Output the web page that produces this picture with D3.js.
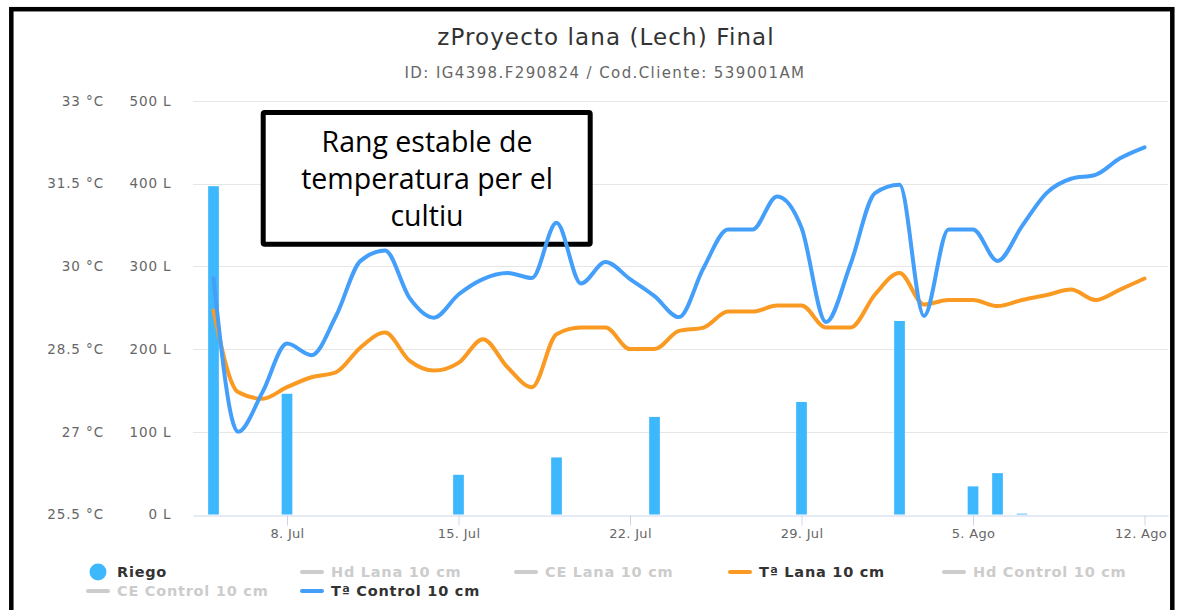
<!DOCTYPE html>
<html>
<head>
<meta charset="utf-8">
<script src="https://cdn.jsdelivr.net/npm/d3@7"></script>
<style>
  body { margin: 0; background: #fff; }
  svg { display: block; font-family: "DejaVu Sans", sans-serif; }
</style>
</head>
<body>
<div id="chart"></div>
<script>
// daily readings, first one on startDay
var startDay = "2024-07-05";
var taLana = [29.2, 27.72, 27.6, 27.81, 27.99, 28.08, 28.53, 28.8, 28.29, 28.11,
  28.25, 28.68, 28.17, 27.81, 28.77, 28.89, 28.89, 28.5, 28.5, 28.83,
  28.89, 29.18, 29.18, 29.29, 29.29, 28.89, 28.89, 29.49, 29.88, 29.31,
  29.39, 29.39, 29.28, 29.39, 29.48, 29.58, 29.39, 29.58, 29.78];
var taControl = [29.79, 27.0, 27.72, 28.6, 28.39, 29.1, 30.1, 30.29, 29.43, 29.07,
  29.49, 29.77, 29.88, 29.79, 30.79, 29.69, 30.08, 29.77, 29.46, 29.08,
  29.97, 30.67, 30.67, 31.27, 30.7, 28.99, 30.04, 31.33, 31.48, 29.1,
  30.67, 30.67, 30.1, 30.73, 31.33, 31.59, 31.66, 31.96, 32.16];

var riegoDates = ["2024-07-05", "2024-07-08", "2024-07-15", "2024-07-19", "2024-07-23",
  "2024-07-29", "2024-08-02", "2024-08-05", "2024-08-06", "2024-08-07"];
var riegoValues = [397, 146, 48, 69, 118, 136, 234, 34, 50, 1];

var tempTicks = [25.5, 27, 28.5, 30, 31.5, 33];
var litreTicks = [0, 100, 200, 300, 400, 500];
var monthNames = ["Ene", "Feb", "Mar", "Abr", "May", "Jun", "Jul", "Ago", "Sep", "Oct", "Nov", "Dic"];

var legendNames = ["Riego", "Hd Lana 10 cm", "CE Lana 10 cm", "Tª Lana 10 cm",
  "Hd Control 10 cm", "CE Control 10 cm", "Tª Control 10 cm"];
var legendActive = [true, false, false, true, false, false, true];

var noteLines = ["Rang estable de", "temperatura per el", "cultiu"];

var colorRiego = "#3db8fd";
var colorLana = "#fb9a22";
var colorControl = "#449ffb";

var parseDay = d3.timeParse("%Y-%m-%d");
var day0 = parseDay(startDay);

var svg = d3
  .select("#chart")
  .append("svg")
  .attr("width", 1184)
  .attr("height", 610);

svg.append("rect").attr("width", 1184).attr("height", 610).attr("fill", "#fff");

var plotLeft = 193, plotRight = 1168, plotTop = 101, plotBottom = 514.5;

var x = d3
  .scaleTime()
  .domain([new Date(2024, 6, 4, 3, 55), new Date(2024, 7, 12, 23, 0)])
  .range([plotLeft, plotRight]);
var yT = d3.scaleLinear().domain([25.5, 33]).range([plotBottom, plotTop]);
var yL = d3.scaleLinear().domain([0, 500]).range([plotBottom, plotTop]);

// title
svg.append("text")
  .attr("x", 606).attr("y", 45)
  .attr("text-anchor", "middle")
  .style("font-size", "23px")
  .style("letter-spacing", "1.1px")
  .attr("fill", "#333")
  .text("zProyecto lana (Lech) Final");

svg.append("text")
  .attr("x", 605).attr("y", 78)
  .attr("text-anchor", "middle")
  .style("font-size", "15px")
  .style("letter-spacing", "1.4px")
  .attr("fill", "#666")
  .text("ID: IG4398.F290824 / Cod.Cliente: 539001AM");

// grid
svg.append("g")
  .selectAll("line")
  .data(litreTicks.slice(1))
  .enter()
  .append("line")
  .attr("x1", plotLeft).attr("x2", plotRight)
  .attr("y1", function (d) { return Math.round(yL(d)) + 0.5; })
  .attr("y2", function (d) { return Math.round(yL(d)) + 0.5; })
  .attr("stroke", "#e6e6e6");

// y labels
svg.append("g")
  .selectAll("text")
  .data(tempTicks)
  .enter()
  .append("text")
  .attr("x", 104)
  .attr("y", function (d) { return yT(d); })
  .attr("dy", "0.35em")
  .attr("text-anchor", "end")
  .attr("fill", "#666")
  .style("font-size", "13.5px")
  .style("letter-spacing", "0.9px")
  .text(function (d) { return d + " °C"; });

svg.append("g")
  .selectAll("text")
  .data(litreTicks)
  .enter()
  .append("text")
  .attr("x", 171.5)
  .attr("y", function (d) { return yL(d); })
  .attr("dy", "0.35em")
  .attr("text-anchor", "end")
  .attr("fill", "#666")
  .style("font-size", "13.5px")
  .style("letter-spacing", "0.9px")
  .text(function (d) { return d + " L"; });

// x axis
var xAxis = svg.append("g")
  .attr("transform", "translate(0," + (Math.round(plotBottom) + 0.5) + ")")
  .call(
    d3.axisBottom(x)
      .tickValues(d3.timeMonday.range(x.domain()[0], x.domain()[1]))
      .tickSize(10)
      .tickSizeOuter(0)
      .tickPadding(3)
      .tickFormat(function (d) { return d.getDate() + ". " + monthNames[d.getMonth()]; })
  );
xAxis.select(".domain").attr("stroke", "#ccd6eb");
xAxis.selectAll(".tick line").attr("stroke", "#ccd6eb");
xAxis.selectAll(".tick text")
  .attr("fill", "#666")
  .style("font-size", "13px")
  .style("letter-spacing", "0.3px")
  .style("font-family", "DejaVu Sans, sans-serif");
// keep the last label inside the plot, like the original
xAxis.selectAll(".tick text")
  .filter(function (d, i, nodes) { return i == nodes.length - 1; })
  .attr("dx", -4);

// note box (sits over the grid, under the series)
var note = svg.append("g");
note.append("rect")
  .attr("x", 263.2).attr("y", 112.5)
  .attr("width", 327).attr("height", 131.7)
  .attr("fill", "#fff")
  .attr("stroke", "#000")
  .attr("stroke-width", 5)
  .attr("rx", 1.5);
note.selectAll("text")
  .data(noteLines)
  .enter()
  .append("text")
  .attr("x", 427)
  .attr("y", function (d, i) { return 151.7 + i * 37.2; })
  .attr("text-anchor", "middle")
  .attr("fill", "#000")
  .style("font-family", "'Open Sans', sans-serif")
  .style("font-size", "28.5px")
  .text(function (d) { return d; });

// riego bars
var barW = 10.7;
svg.append("g")
  .selectAll("rect")
  .data(riegoDates)
  .enter()
  .append("rect")
  .attr("x", function (d) { return x(parseDay(d)) - barW / 2; })
  .attr("y", function (d, i) { return yL(riegoValues[i]); })
  .attr("width", barW)
  .attr("height", function (d, i) { return plotBottom - yL(riegoValues[i]); })
  .attr("fill", colorRiego);

// temperature lines
function drawLine(values, color) {
  var line = d3.line()
    .x(function (d, i) { return x(d3.timeDay.offset(day0, i)); })
    .y(function (d) { return yT(d); })
    .curve(d3.curveMonotoneX);
  svg.append("path")
    .datum(values)
    .attr("d", line)
    .attr("fill", "none")
    .attr("stroke", color)
    .attr("stroke-width", 4)
    .attr("stroke-linejoin", "round")
    .attr("stroke-linecap", "round");
}
drawLine(taLana, colorLana);
drawLine(taControl, colorControl);

// legend
var legend = svg.append("g");
for (let i = 0; i < legendNames.length; i++) {
  var lx = 86 + (i % 5) * 214;
  var ly = 572 + Math.floor(i / 5) * 19;
  var c = "#ccc";
  if (i == 0) c = colorRiego;
  if (i == 3) c = colorLana;
  if (i == 6) c = colorControl;
  if (i == 0) {
    legend.append("circle").attr("cx", lx + 12).attr("cy", ly).attr("r", 8.5).attr("fill", c);
  } else {
    legend.append("line")
      .attr("x1", lx + 2).attr("x2", lx + 22)
      .attr("y1", ly).attr("y2", ly)
      .attr("stroke", c).attr("stroke-width", 4).attr("stroke-linecap", "round");
  }
  legend.append("text")
    .attr("x", lx + 31).attr("y", ly + 5)
    .attr("fill", legendActive[i] ? "#333" : "#ccc")
    .style("font-size", "14.5px")
    .style("letter-spacing", "0.75px")
    .style("font-weight", "bold")
    .text(legendNames[i]);
}

// frame
svg.append("rect")
  .attr("x", 11.3).attr("y", 9.2)
  .attr("width", 1161).attr("height", 620)
  .attr("fill", "none")
  .attr("stroke", "#000")
  .attr("stroke-width", 4.5);
</script>
</body>
</html>
